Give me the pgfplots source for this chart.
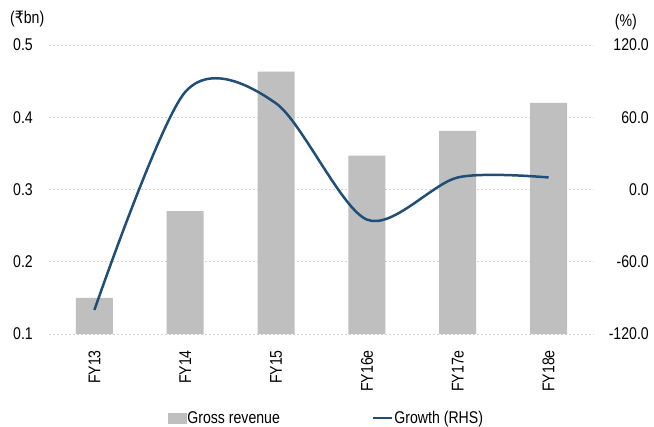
\documentclass[border=0pt]{standalone}
\usepackage{pgfplots}
\pgfplotsset{compat=1.18}
\usepackage{fontspec}
\setmainfont{Liberation Sans}[FakeStretch=0.83]
\newfontfamily\rupee{DejaVu Sans}[FakeStretch=0.83]
\definecolor{barGray}{HTML}{BFBFBF}
\definecolor{lineBlue}{HTML}{1F4E79}
\definecolor{gridGray}{HTML}{D4D4D4}

\pgfplotsset{
  base/.style={
    at={(0,0)}, anchor=south west, scale only axis,
    width=545bp, height=289bp,
    xmin=-0.5, xmax=5.5,
    axis line style={draw=none}, tick style={draw=none},
    /pgf/number format/.cd, fixed, fixed zerofill, precision=1, assume math mode=true
  }
}

\begin{document}
\begin{tikzpicture}[font=\fontsize{17bp}{20bp}\selectfont]
% bars: gross revenue (left axis)
\begin{axis}[base,
  ymin=0.1, ymax=0.5,
  ytick={0.1,0.2,0.3,0.4,0.5},
  xtick={0,...,5},
  xticklabels={FY13,FY14,FY15,FY16e,FY17e,FY18e},
  xticklabel style={rotate=90, anchor=east, inner sep=0pt},
  xticklabel shift=16bp,
  yticklabel style={inner sep=0pt},
  yticklabel shift=16bp,
  ymajorgrids,
  grid style={gridGray, line width=0.8bp, dash pattern=on 2bp off 2bp},
]
\addplot[ybar, bar width=37bp, fill=barGray, draw=none]
  coordinates {(0,0.150)(1,0.270)(2,0.463)(3,0.347)(4,0.381)(5,0.420)};
\end{axis}

% line: growth (right axis)
\begin{axis}[base,
  ymin=-120, ymax=120,
  ytick={-120,-60,0,60,120},
  xtick=\empty,
  yticklabel pos=right,
  yticklabel style={anchor=east, inner sep=0pt},
  yticklabel shift=55bp,
  legend columns=2,
  legend style={draw=none, fill=none, inner sep=0pt,
    at={(0.218,-0.2907)}, anchor=west,
    nodes={inner sep=1bp, anchor=west},
    /tikz/every even column/.append style={column sep=91bp}},
]
\addlegendimage{legend image code/.code={\fill[barGray] (0bp,-5bp) rectangle (18bp,5bp);}}
\addlegendentry{Gross revenue}
\addplot[lineBlue, line width=2.5bp, smooth,
  legend image code/.code={\draw[lineBlue, line width=2.5bp] (0bp,0bp) -- (19bp,0bp);}]
  coordinates {(0,-100)(1,81)(2,71.5)(3,-25)(4,10)(5,10)};
\addlegendentry{Growth (RHS)}
\end{axis}

\node[anchor=base west, inner sep=0pt] at (-39bp,310.5bp) {({\rupee ₹}bn)};
\node[anchor=base east, inner sep=0pt] at (588bp,307.5bp) {(\%)};

\pgfresetboundingbox
\path[use as bounding box] (-49bp,-93bp) rectangle (605bp,334bp);
\end{tikzpicture}
\end{document}
